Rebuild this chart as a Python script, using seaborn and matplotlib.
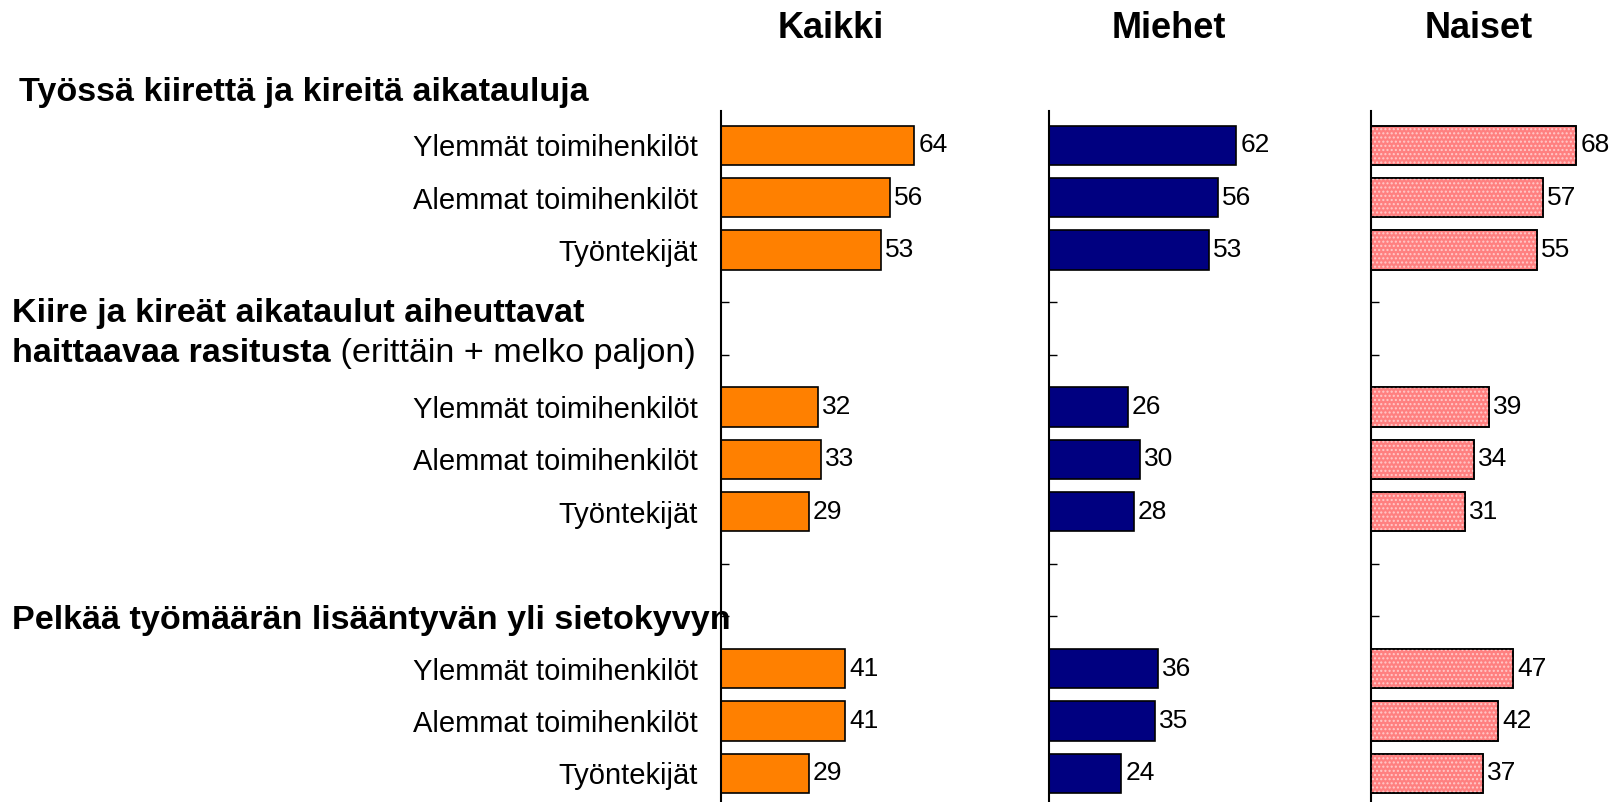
import matplotlib
matplotlib.use("Agg")
import matplotlib.pyplot as plt
from matplotlib.patches import Rectangle
import seaborn as sns
import pandas as pd

sns.set_style("white")
plt.rcParams["font.family"] = ["Liberation Sans", "DejaVu Sans"]
plt.rcParams["text.color"] = "black"
plt.rcParams["ytick.labelcolor"] = "black"

# data
groups = ["Ylemmät toimihenkilöt", "Alemmat toimihenkilöt", "Työntekijät"] * 3
slots = [1, 2, 3, 6, 7, 8, 11, 12, 13]
kaikki = [64, 56, 53, 32, 33, 29, 41, 41, 29]
miehet = [62, 56, 53, 26, 30, 28, 36, 35, 24]
naiset = [68, 57, 55, 39, 34, 31, 47, 42, 37]
panel_titles = ["Kaikki", "Miehet", "Naiset"]
headers = ["Työssä kiirettä ja kireitä aikatauluja",
           "Kiire ja kireät aikataulut aiheuttavat",
           "haittaavaa rasitusta",
           "Pelkää työmäärän lisääntyvän yli sietokyvyn"]
header2_rest = " (erittäin + melko paljon)"

df = pd.DataFrame({"ryhma": groups, "slot": slots,
                   "Kaikki": kaikki, "Miehet": miehet, "Naiset": naiset})

colors = {"Kaikki": "#FF8000", "Miehet": "#000080", "Naiset": "#FF8080"}

W, H = 1616, 802
fig = plt.figure(figsize=(W / 100, H / 100), dpi=100)

lefts = [721, 1049, 1371]
axes = []
for i, name in enumerate(panel_titles):
    ax = fig.add_axes([lefts[i] / W, 0, 302 / W, 1 - 111 / H])
    sns.barplot(data=df, x=name, y="slot", orient="y", native_scale=True,
                color=colors[name], saturation=1, edgecolor="black",
                linewidth=1.2, width=0.75, ax=ax)
    ax.set_xlim(0, 100)
    ax.set_ylim(13.55, 0.345)
    for s in ["top", "right", "bottom"]:
        ax.spines[s].set_visible(False)
    ax.spines["left"].set_linewidth(1.5)
    ax.spines["left"].set_color("black")
    ax.set_xticks([])
    ax.set_xlabel("")
    ax.set_ylabel("")
    ax.set_yticks(range(1, 14))
    ax.tick_params(axis="y", direction="in", length=6, width=1, color="black",
                   left=True, pad=17, labelsize=21, labelcolor="black")
    if i == 0:
        lab = [""] * 13
        for g, s in zip(groups, slots):
            lab[s - 1] = g
        ax.set_yticklabels(lab)
    else:
        ax.set_yticklabels([])
    for c in ax.containers:
        ax.bar_label(c, padding=3, fontsize=19, color="black", clip_on=False)
    if name == "Naiset":
        for p in list(ax.patches):
            x0, y0 = p.get_xy()
            ax.add_patch(Rectangle((x0, y0), p.get_width(), p.get_height(),
                                   facecolor="none", edgecolor="#FFCACA",
                                   hatch="....", linewidth=0, zorder=3))
            ax.add_patch(Rectangle((x0, y0), p.get_width(), p.get_height(),
                                   facecolor="none", edgecolor="black",
                                   linewidth=1.2, zorder=4))
    axes.append(ax)

# panel titles
title_x = [831, 1169, 1479]
for t, x in zip(panel_titles, title_x):
    fig.text(x / W, 1 - 28 / H, t, ha="center", va="center",
             fontsize=26, fontweight="bold")

# section headers
fig.text(19 / W, 1 - 93 / H, headers[0], ha="left", va="center",
         fontsize=24.6, fontweight="bold")
fig.text(12 / W, 1 - 314 / H, headers[1], ha="left", va="center",
         fontsize=24.6, fontweight="bold")
t2 = fig.text(12 / W, 1 - 354 / H, headers[2], ha="left", va="center",
              fontsize=24.6, fontweight="bold")
fig.canvas.draw()
bb = t2.get_window_extent(renderer=fig.canvas.get_renderer())
fig.text(bb.x1 / W, 1 - 354 / H, header2_rest, ha="left", va="center",
         fontsize=24.6)
fig.text(12 / W, 1 - 621 / H, headers[3], ha="left", va="center",
         fontsize=24.6, fontweight="bold")

fig.savefig("out.png", dpi=100)
